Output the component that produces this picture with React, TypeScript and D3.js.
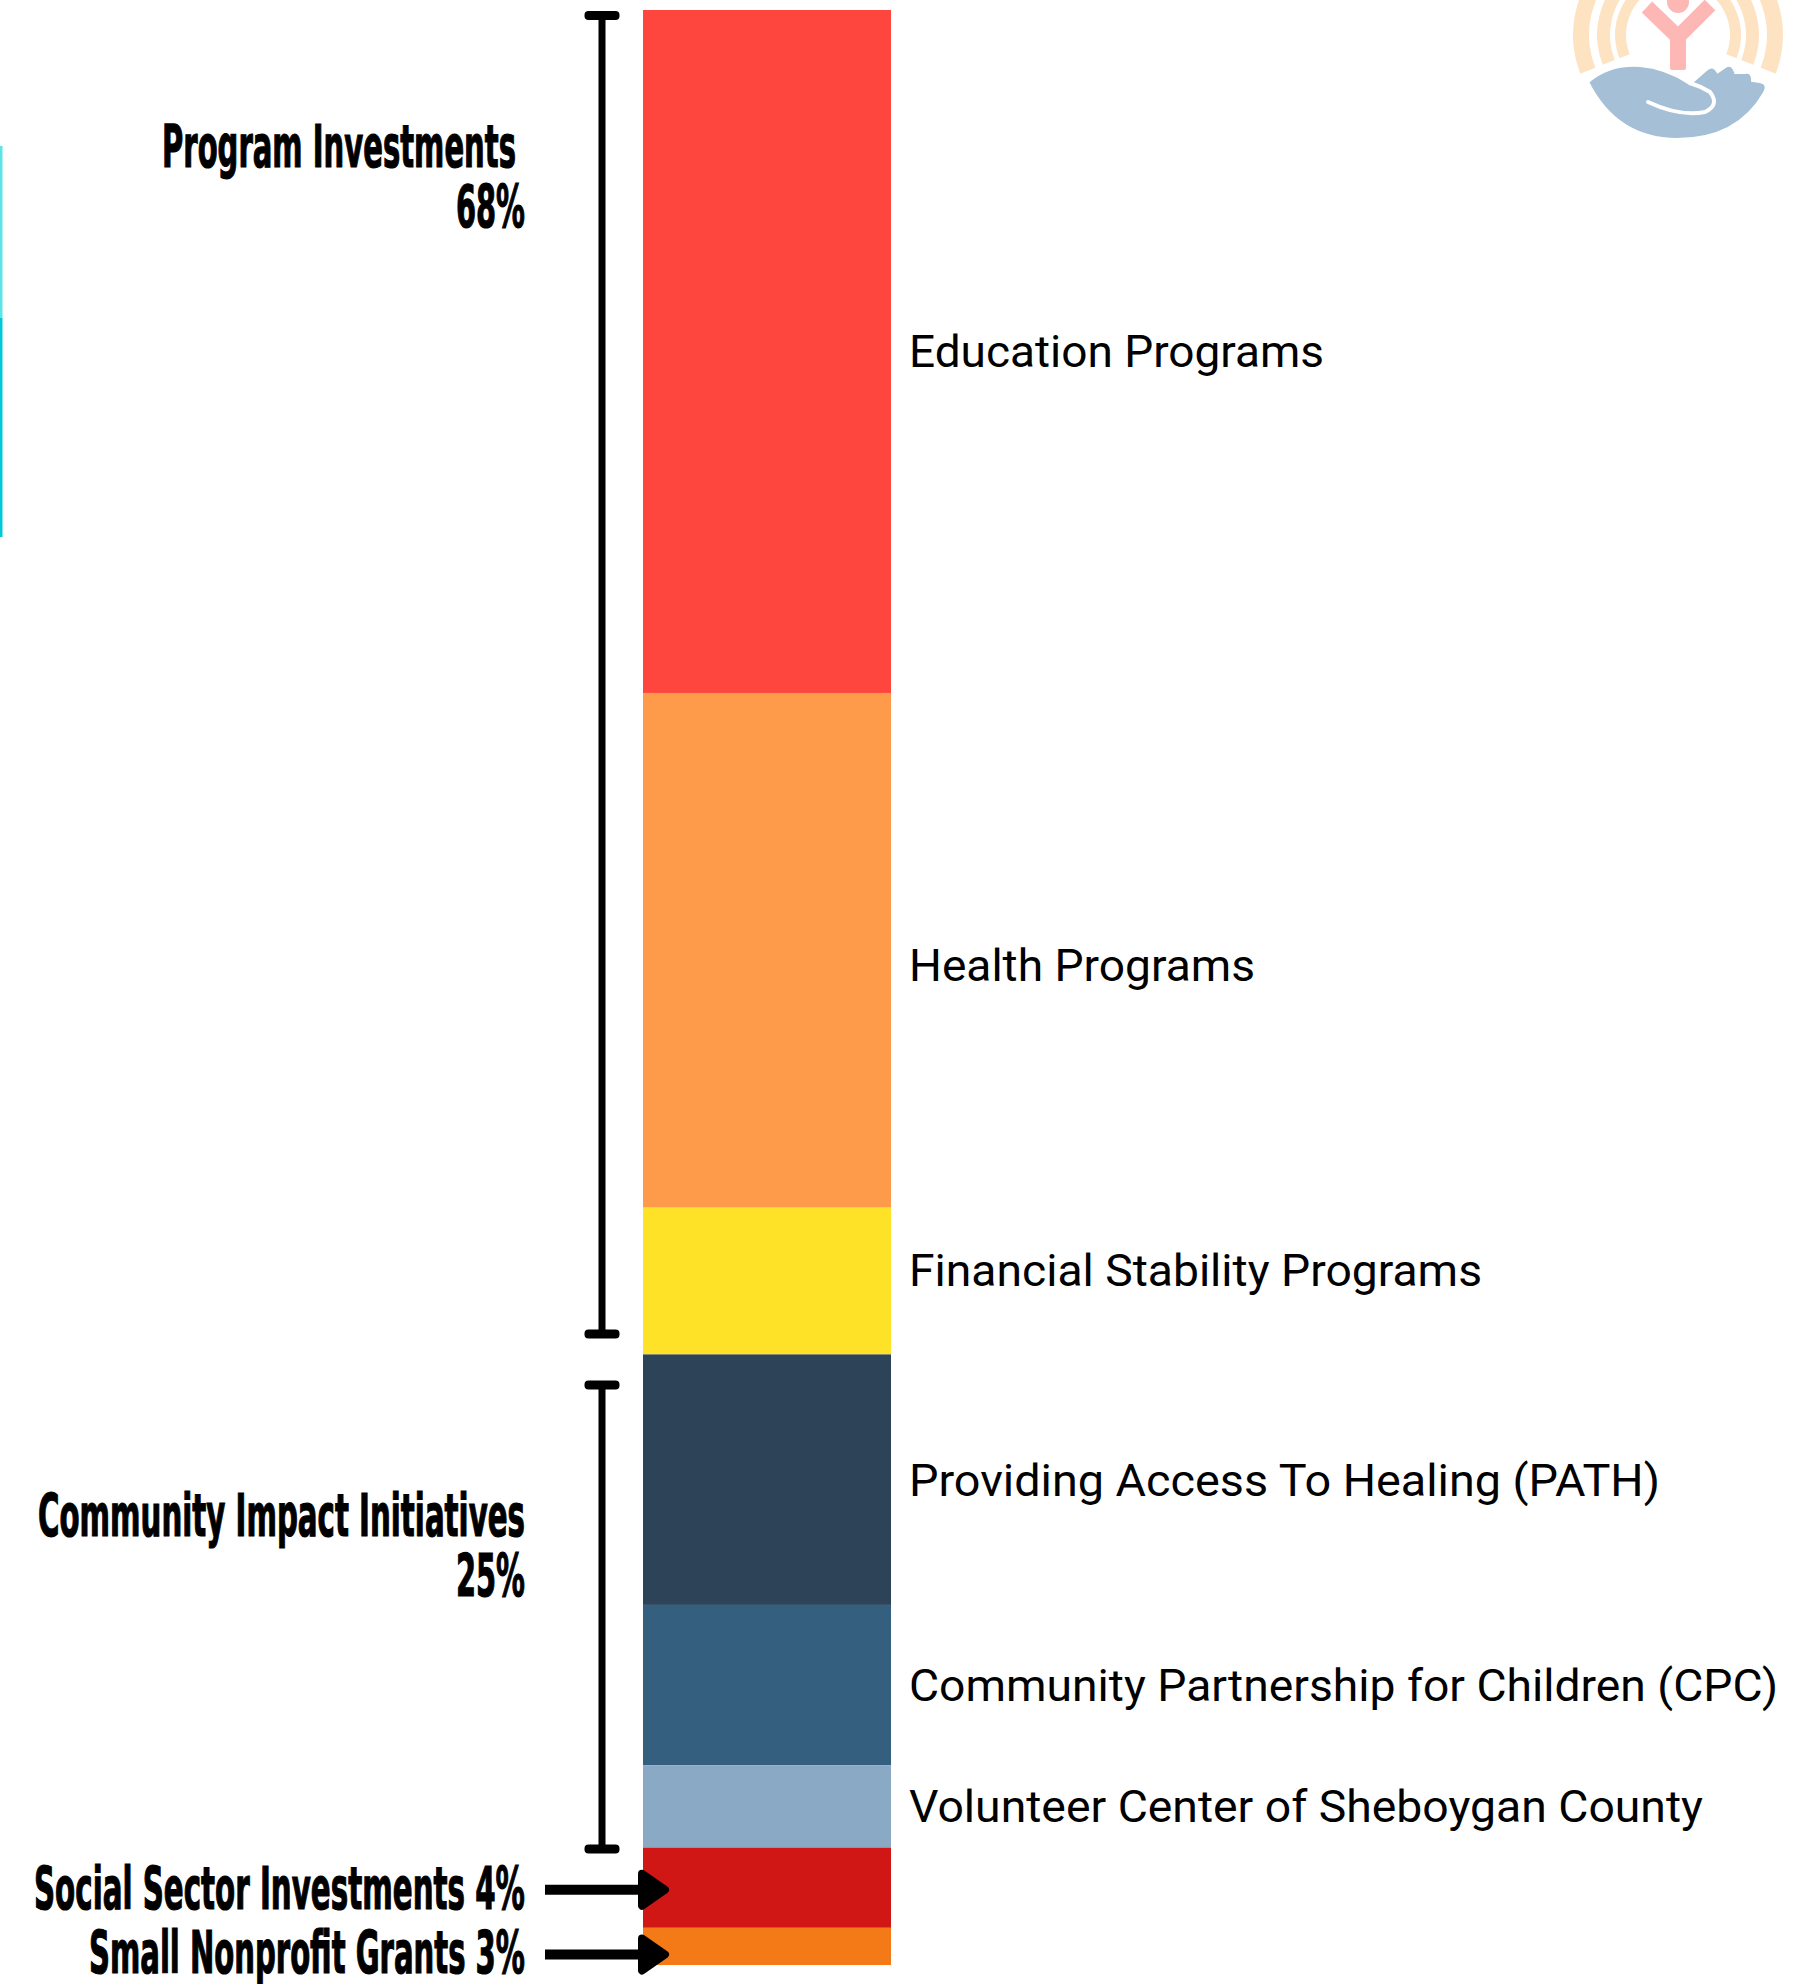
import { useEffect, useRef } from 'react'
import * as d3 from 'd3'

// segments of the stacked bar, top to bottom
const categories = [
  'Education Programs',
  'Health Programs',
  'Financial Stability Programs',
  'Providing Access To Healing (PATH)',
  'Community Partnership for Children (CPC)',
  'Volunteer Center of Sheboygan County',
  'Social Sector Investments',
  'Small Nonprofit Grants'
]
const shares = [34.9, 26.3, 7.5, 12.8, 8.2, 4.2, 4.1, 1.9]
const colors = ['#ff463e', '#fd9b4b', '#fee228', '#2d4357', '#345f7e', '#89a9c4', '#d11616', '#f47a17']

// which group each segment belongs to
const groupOf = [0, 0, 0, 1, 1, 1, 2, 3]
const groupNames = ['Program Investments', 'Community Impact Initiatives', 'Social Sector Investments', 'Small Nonprofit Grants']
const groupPct = ['68%', '25%', '4%', '3%']

const W = 1798
const H = 1984

export default function App() {
  const svgRef = useRef<SVGSVGElement>(null)

  useEffect(() => {
    if (!svgRef.current) return
    const svg = d3.select(svgRef.current)
    svg.selectAll('*').remove()

    const total = d3.sum(shares)
    const ends = Array.from(d3.cumsum(shares))
    const starts = ends.map((e, i) => e - shares[i])

    const y = d3.scaleLinear().domain([0, total]).range([10, 1965])
    const barX = 643
    const barW = 248

    const condensed = "'Liberation Sans Narrow', 'DejaVu Sans Condensed', 'Arial Narrow', sans-serif"
    const boldText = (sel: d3.Selection<SVGTextElement, unknown, null, undefined>, len: number) =>
      sel.attr('text-anchor', 'end')
        .attr('font-family', condensed).attr('font-weight', 'bold').attr('font-size', 58)
        .attr('fill', '#000').attr('stroke', '#000').attr('stroke-width', 1.2)
        .attr('textLength', len).attr('lengthAdjust', 'spacingAndGlyphs')

    // teal edge line
    svg.append('rect').attr('x', 0).attr('y', 146).attr('width', 2.5).attr('height', 172).attr('fill', '#5ee4e6')
    svg.append('rect').attr('x', 0).attr('y', 318).attr('width', 2.5).attr('height', 219).attr('fill', '#00c9d3')

    // bar segments
    svg.selectAll('.seg')
      .data(shares)
      .enter()
      .append('rect')
      .attr('class', 'seg')
      .attr('x', barX)
      .attr('y', (_, i) => y(starts[i]))
      .attr('width', barW)
      .attr('height', (_, i) => y(ends[i]) - y(starts[i]))
      .attr('fill', (_, i) => colors[i])

    // right side labels (only for the bracketed groups)
    const labelNudge = [0, 15, -11, 0, 0, 0]
    const labelWidths = [415, 346, 573, 751, 869, 794]
    svg.selectAll('.seg-label')
      .data(categories.slice(0, 6))
      .enter()
      .append('text')
      .attr('class', 'seg-label')
      .attr('x', barX + barW + 18)
      .attr('y', (_, i) => (y(starts[i]) + y(ends[i])) / 2 + 16 + labelNudge[i])
      .attr('font-family', 'Roboto, sans-serif')
      .attr('font-size', 45)
      .attr('fill', '#000')
      .attr('textLength', (_, i) => labelWidths[i])
      .attr('lengthAdjust', 'spacingAndGlyphs')
      .text(d => d)

    // brackets + group labels
    const brX = 602
    const bracketInset = [[5, -20], [30, 2]]
    const nameWidths = [354, 487]
    const nameRight = [516, 525]
    ;[0, 1].forEach(g => {
      const idx = groupOf.map((v, i) => (v === g ? i : -1)).filter(i => i >= 0)
      const top = y(starts[idx[0]]) + bracketInset[g][0]
      const bottom = y(ends[idx[idx.length - 1]]) + bracketInset[g][1]
      svg.append('rect')
        .attr('x', brX - 3.5).attr('y', top).attr('width', 7).attr('height', bottom - top)
        .attr('fill', '#000')
      ;[top, bottom].forEach((cy, k) => {
        svg.append('rect')
          .attr('x', brX - 17.5).attr('y', k === 0 ? cy - 4 : cy - 5).attr('width', 35).attr('height', 9)
          .attr('rx', 4).attr('fill', '#000')
      })
      boldText(svg.append('text').attr('x', nameRight[g]).attr('y', top + 152), nameWidths[g])
        .text(groupNames[g])
      boldText(svg.append('text').attr('x', 525).attr('y', top + 212), 69)
        .text(groupPct[g])
    })

    // arrow groups
    const arrowNudge = [0, 6]
    const arrowWidths = [491, 436]
    ;[2, 3].forEach((g, k) => {
      const i = groupOf.indexOf(g)
      const cy = (y(starts[i]) + y(ends[i])) / 2 + 2 + arrowNudge[k]
      boldText(svg.append('text').attr('x', 525).attr('y', cy + 19), arrowWidths[k])
        .text(`${groupNames[g]} ${groupPct[g]}`)
      svg.append('line')
        .attr('x1', 545).attr('x2', 650).attr('y1', cy).attr('y2', cy)
        .attr('stroke', '#000').attr('stroke-width', 10)
      svg.append('path')
        .attr('d', `M${barX - 1},${cy - 16} L${barX + 22},${cy} L${barX - 1},${cy + 16} Z`)
        .attr('fill', '#000').attr('stroke', '#000')
        .attr('stroke-width', 8).attr('stroke-linejoin', 'round')
    })

    // faded logo, top right
    const logo = svg.append('g').attr('transform', 'translate(1678,35)')
    const arc = d3.arc<[number, number]>()
      .innerRadius(d => d[0]).outerRadius(d => d[1])
      .startAngle(-Math.PI * 0.62).endAngle(Math.PI * 0.62)
    logo.selectAll('.ring')
      .data([[89, 105], [68, 81], [52, 63]] as [number, number][])
      .enter()
      .append('path')
      .attr('d', d => arc(d) as string)
      .attr('fill', '#fee3c3')
    // person
    logo.append('circle').attr('cx', 0).attr('cy', -33).attr('r', 11).attr('fill', '#fdb7b5')
    logo.append('path')
      .attr('d', 'M-31,-28 L0,2 L32,-30')
      .attr('fill', 'none').attr('stroke', '#fdb7b5').attr('stroke-width', 15).attr('stroke-linejoin', 'round')
    logo.append('rect').attr('x', -8).attr('y', -5).attr('width', 16).attr('height', 40).attr('rx', 2).attr('fill', '#fdb7b5')
    // hand
    logo.append('path')
      .attr('d', 'M-91,47 Q-70,28 -38,30 Q-12,32 12,48 L28,34 Q35,28 40,36 L47,31 Q55,27 58,37 L66,37 Q75,35 75,45 L82,46 Q92,48 87,58 Q60,105 -1,105 Q-62,105 -91,47 Z')
      .attr('fill', '#a4bfd6').attr('stroke', '#fff').attr('stroke-width', 4)
    logo.append('path')
      .attr('d', 'M-30,67 Q2,82 27,77 Q42,70 32,57 Q22,51 12,48')
      .attr('fill', 'none').attr('stroke', '#fff').attr('stroke-width', 4).attr('stroke-linecap', 'round')
  }, [])

  return (
    <svg
      ref={svgRef}
      width={W}
      height={H}
      style={{ position: 'absolute', left: 0, top: 0, display: 'block', background: '#fff' }}
    />
  )
}
